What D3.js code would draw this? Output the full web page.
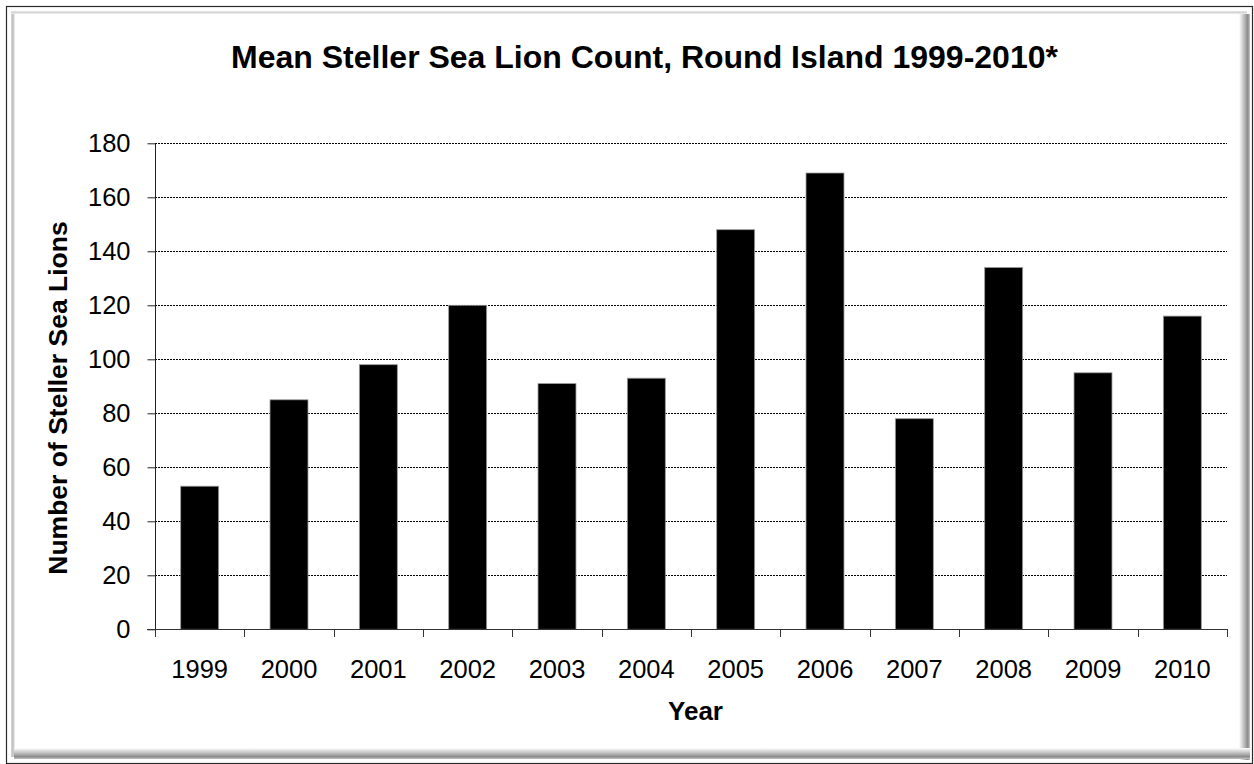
<!DOCTYPE html>
<html><head><meta charset="utf-8">
<script src="https://cdn.jsdelivr.net/npm/d3@7/dist/d3.min.js"></script>
<style>html,body{margin:0;padding:0;background:#fff;}svg{display:block;}</style>
</head><body>
<script>
const years = ["1999","2000","2001","2002","2003","2004","2005","2006","2007","2008","2009","2010"];
const counts = [53, 85, 98, 120, 91, 93, 148, 169, 78, 134, 95, 116];
const yTicks = [0, 20, 40, 60, 80, 100, 120, 140, 160, 180];
const title = "Mean Steller Sea Lion Count, Round Island 1999-2010*";
const xTitle = "Year";
const yTitle = "Number of Steller Sea Lions";

const W = 1254, H = 764;
const font = "'Liberation Sans', Arial, sans-serif";
const svg = d3.select("body").append("svg").attr("width", W).attr("height", H);
const defs = svg.append("defs");

function grad(id, x1, y1, x2, y2, stops) {
  const g = defs.append("linearGradient").attr("id", id)
    .attr("x1", x1).attr("y1", y1).attr("x2", x2).attr("y2", y2);
  stops.forEach(s => g.append("stop").attr("offset", s[0]).attr("stop-color", s[1]));
}
grad("gR", 0, 0, 1, 0, [[0, "#ffffff"], [0.5, "#b8b8b8"], [0.8, "#8a8a8a"], [1, "#c8c8c8"]]);
grad("gB", 0, 0, 0, 1, [[0, "#ffffff"], [0.5, "#b8b8b8"], [0.8, "#8a8a8a"], [1, "#c8c8c8"]]);
grad("gL", 0, 0, 1, 0, [[0, "#d8d8d8"], [0.5, "#bdbdbd"], [1, "#f4f4f4"]]);
grad("gT", 0, 0, 0, 1, [[0, "#e6e6e6"], [0.6, "#d2d2d2"], [1, "#f8f8f8"]]);

// frame
svg.append("rect").attr("x", 6.5).attr("y", 6.5).attr("width", 1246).attr("height", 757)
  .attr("fill", "#fff").attr("stroke", "#2a2a2a").attr("stroke-width", 1.2);
svg.append("rect").attr("x", 11).attr("y", 11).attr("width", 4).attr("height", 746).attr("fill", "url(#gL)");
svg.append("rect").attr("x", 11).attr("y", 11).attr("width", 1236).attr("height", 3).attr("fill", "url(#gT)");
svg.append("rect").attr("x", 1239).attr("y", 14).attr("width", 11).attr("height", 746).attr("fill", "url(#gR)");
svg.append("rect").attr("x", 14).attr("y", 748).attr("width", 1236).attr("height", 11).attr("fill", "url(#gB)");

const pL = 155, pR = 1227, pT = 143.3, pB = 629.3;
const x = d3.scaleBand().domain(years).range([pL, pR]).paddingInner(0.575).paddingOuter(0.2875);
const y = d3.scaleLinear().domain([0, 180]).range([pB, pT]);

// gridlines
svg.append("g").selectAll("line").data(yTicks.filter(d => d > 0)).join("line")
  .attr("x1", pL).attr("x2", pR)
  .attr("y1", d => Math.round(y(d)) + 0.5).attr("y2", d => Math.round(y(d)) + 0.5)
  .attr("stroke", "#000").attr("stroke-width", 1).attr("stroke-dasharray", "2,1");

// bars
svg.append("g").selectAll("rect").data(years).join("rect")
  .attr("x", d => x(d)).attr("width", x.bandwidth())
  .attr("y", (d, i) => y(counts[i])).attr("height", (d, i) => y(0) - y(counts[i]))
  .attr("fill", "#000").attr("stroke", "#9a9a9a").attr("stroke-width", 0.8);

// y axis
const yAxis = d3.axisLeft(y).tickValues(yTicks).tickSize(8).tickPadding(17);
const gy = svg.append("g").attr("transform", `translate(${pL + 0.5},0)`).call(yAxis);
gy.select(".domain").attr("stroke", "#222").attr("d", `M0,${pT}V${pB}`);
gy.selectAll(".tick line").attr("stroke", "#222");
gy.selectAll("text").attr("font-family", font).attr("font-size", 25.5).attr("fill", "#000");

// x axis with boundary ticks
const bounds = d3.range(years.length + 1).map(i => pL + i * (pR - pL) / years.length);
svg.append("line").attr("x1", pL - 8).attr("x2", pR + 0.5)
  .attr("y1", Math.round(pB) + 0.5).attr("y2", Math.round(pB) + 0.5).attr("stroke", "#333");
svg.append("g").selectAll("line").data(bounds).join("line")
  .attr("x1", d => Math.round(d) + 0.5).attr("x2", d => Math.round(d) + 0.5)
  .attr("y1", Math.round(pB)).attr("y2", Math.round(pB) + 8).attr("stroke", "#333");
const xAxis = d3.axisBottom(x).tickSize(0).tickPadding(0);
const gx = svg.append("g").attr("transform", `translate(0,${pB})`).call(xAxis);
gx.select(".domain").remove();
gx.selectAll("text").attr("font-family", font).attr("font-size", 25.5).attr("fill", "#000")
  .attr("dy", null).attr("y", 49);

// titles
svg.append("text").attr("x", 644.5).attr("y", 68).attr("text-anchor", "middle")
  .attr("font-family", font).attr("font-weight", "bold").attr("font-size", 32).text(title);
svg.append("text").attr("x", 695.5).attr("y", 720).attr("text-anchor", "middle")
  .attr("font-family", font).attr("font-weight", "bold").attr("font-size", 26).text(xTitle);
svg.append("text").attr("transform", `translate(67,398) rotate(-90)`)
  .attr("text-anchor", "middle")
  .attr("font-family", font).attr("font-weight", "bold").attr("font-size", 26.5).text(yTitle);
</script>
</body></html>
